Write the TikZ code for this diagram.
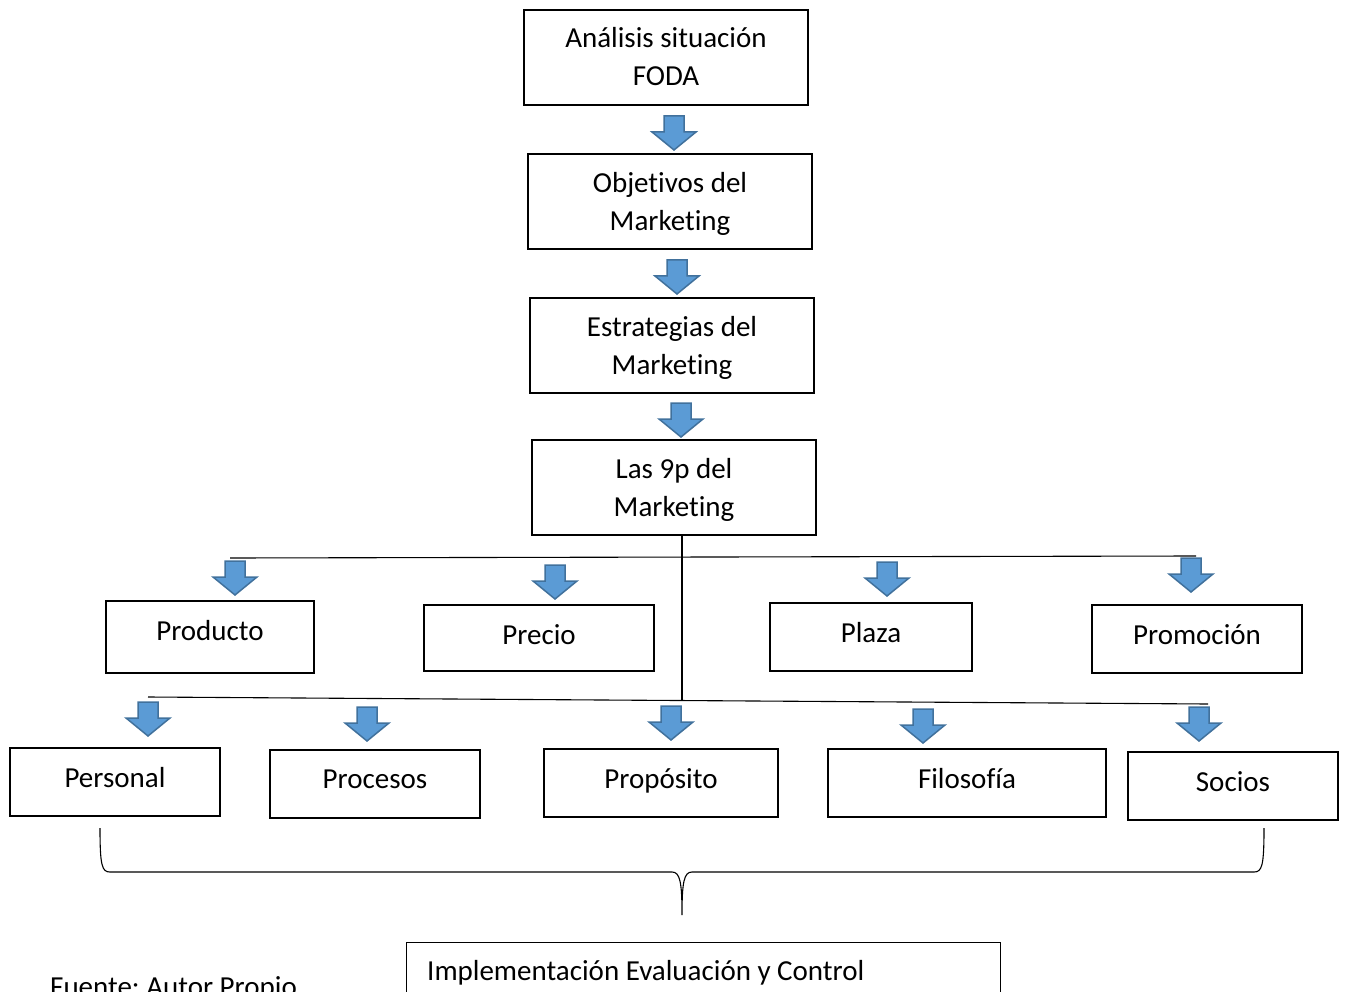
\documentclass[tikz,border=0pt]{standalone}
\usepackage{fontspec}
\setmainfont{Carlito}[Ligatures=NoCommon]
\frenchspacing
\definecolor{arrfill}{RGB}{91,155,213}
\definecolor{arrline}{RGB}{65,113,156}
\newcommand{\nolig}{\kern0pt }
\begin{document}
\begin{tikzpicture}[x=1pt,y=-1pt,
  box/.style={draw=black,line width=1.2pt,inner sep=0pt,fill=white},
  lbl/.style={inner sep=0pt,font=\fontsize{29}{38}\selectfont,align=center},
  link/.style={draw=black,line width=1.1pt},
  darr/.pic={\draw[fill=arrfill,draw=arrline,line width=1.5pt,line join=miter]
     (-10,0) -- (10,0) -- (10,16) -- (22,16) -- (0,34) -- (-22,16) -- (-10,16) -- cycle;}]
\useasboundingbox (0,0) rectangle (1346,992);
\clip (0,0) rectangle (1346,992);
% top chain
\node[box,minimum width=284,minimum height=95] (foda) at (666,57.5) {};
\node[lbl] (tfoda) at (666,56.5) {Análisis situación\\FODA};
\pic at (674,116) {darr};
\node[box,minimum width=284,minimum height=95] (obj) at (670,201.5) {};
\node[lbl] (tobj) at (670,203.5) {Objet\nolig ivos del\\Market\nolig ing};
\pic at (677,260) {darr};
\node[box,minimum width=284,minimum height=95] (est) at (672,345.5) {};
\node[lbl] (test) at (672,347.5) {Estrategias del\\Market\nolig ing};
\pic at (681,403) {darr};
\node[box,minimum width=284,minimum height=95] (nuevep) at (674,487.5) {};
\node[lbl] (tnuevep) at (674,489.5) {Las 9p del\\Market\nolig ing};
% connectors
\coordinate (vend) at (682,700);
\coordinate (h1l) at (230,558);
\coordinate (h1r) at (1196,556);
\coordinate (h2l) at (148,697);
\coordinate (h2r) at (1208,704);
\draw[link] (nuevep.south -| vend) -- (vend);
\draw[link] (h1l) -- (h1r);
\draw[link] (h2l) -- (h2r);
% row 1
\pic at (235,561) {darr};
\pic at (555,565) {darr};
\pic at (887,562) {darr};
\pic at (1191,558) {darr};
\node[box,minimum width=208,minimum height=72] (prod) at (210,637) {};
\node[lbl,anchor=base] at (210,640) {Producto};
\node[box,minimum width=230,minimum height=66] (prec) at (539,638) {};
\node[lbl,anchor=base] at (539,644) {Precio};
\node[box,minimum width=202,minimum height=68] (plaza) at (871,637) {};
\node[lbl,anchor=base] at (871,642) {Plaza};
\node[box,minimum width=210,minimum height=68] (prom) at (1197,639) {};
\node[lbl,anchor=base] at (1197,644) {Promoción};
% row 2
\pic at (148,702) {darr};
\pic at (367,707) {darr};
\pic at (671,706) {darr};
\pic at (923,709) {darr};
\pic at (1199,707) {darr};
\node[box,minimum width=210,minimum height=68] (pers) at (115,782) {};
\node[lbl,anchor=base] at (115,787) {Personal};
\node[box,minimum width=210,minimum height=68] (proc) at (375,784) {};
\node[lbl,anchor=base] at (375,788) {Procesos};
\node[box,minimum width=234,minimum height=68] (prop) at (661,783) {};
\node[lbl,anchor=base] at (661,788) {Propósito};
\node[box,minimum width=278,minimum height=68] (filo) at (967,783) {};
\node[lbl,anchor=base] at (967,788) {Filosofía};
\node[box,minimum width=210,minimum height=68] (soc) at (1233,786) {};
\node[lbl,anchor=base] at (1233,791) {Socios};
% brace
\coordinate (bl) at (100,828);
\coordinate (br) at (1264,828);
\coordinate (bt) at (682,915);
\draw[line width=1.1pt] (bl) .. controls (100,866) and (102,872) .. (110,872) -- (672,872)
  .. controls (680,872) and (682,882) .. (bt)
  .. controls (682,882) and (684,872) .. (692,872) -- (1254,872)
  .. controls (1262,872) and (1264,866) .. (br);
% bottom
\node[box,minimum width=594,minimum height=120,anchor=north west] (impl) at (406,942) {};
\node[lbl,anchor=base west] at (427,980) {Implementación Evaluación y Control};
\node[lbl,anchor=base west] (fuente) at (50,996) {Fuente: Autor Propio};
\end{tikzpicture}
\end{document}
